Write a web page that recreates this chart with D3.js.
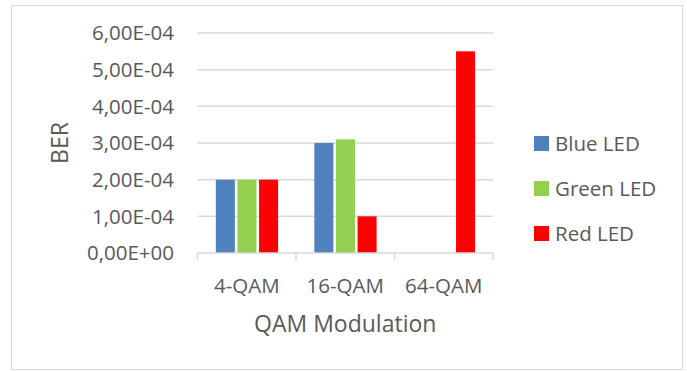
<!DOCTYPE html>
<html>
<head>
<meta charset="utf-8">
<script src="https://cdn.jsdelivr.net/npm/d3@7"></script>
<style>
  html, body { margin: 0; padding: 0; background: #fff; }
  svg { display: block; }
  text { font-family: "Open Sans", "Noto Sans", sans-serif; fill: #595959; }
</style>
</head>
<body>
<svg id="chart" width="687" height="372"></svg>
<script>
// BER per modulation scheme, one array per LED colour
const categories = ["4-QAM", "16-QAM", "64-QAM"];
const seriesNames = ["Blue LED", "Green LED", "Red LED"];
const blueLed = [2.0e-4, 3.0e-4, null];
const greenLed = [2.0e-4, 3.1e-4, null];
const redLed = [2.0e-4, 1.0e-4, 5.5e-4];
const seriesColors = ["#4F81BD", "#92D050", "#FF0000"];
const yTickValues = [0, 1e-4, 2e-4, 3e-4, 4e-4, 5e-4, 6e-4];
const yTickLabels = ["0,00E+00", "1,00E-04", "2,00E-04", "3,00E-04", "4,00E-04", "5,00E-04", "6,00E-04"];

const seriesValues = [blueLed, greenLed, redLed];

const svg = d3.select("#chart");

// outer chart frame
svg.append("rect")
  .attr("x", 11.5).attr("y", 5.5)
  .attr("width", 671).attr("height", 364)
  .attr("fill", "#fff")
  .attr("stroke", "#D9D9D9")
  .attr("stroke-width", 1);

const plot = { left: 197.5, right: 493, top: 33, bottom: 253 };
const tickFont = 20.5;
const titleFont = 23;

const x = d3.scaleBand()
  .domain(categories)
  .range([plot.left, plot.right])
  .paddingInner(0).paddingOuter(0);

const xSub = d3.scaleBand()
  .domain(seriesNames)
  .range([x.bandwidth() * 0.186, x.bandwidth() * 0.818])
  .paddingInner(0.12);

const y = d3.scaleLinear()
  .domain([0, 6e-4])
  .range([plot.bottom, plot.top]);

// horizontal gridlines
svg.append("g")
  .selectAll("line")
  .data(yTickValues.filter(v => v > 0))
  .join("line")
  .attr("x1", plot.left).attr("x2", plot.right)
  .attr("y1", d => y(d)).attr("y2", d => y(d))
  .attr("stroke", "#D9D9D9")
  .attr("stroke-width", 1.5);

// y axis labels
const yAxis = d3.axisLeft(y)
  .tickValues(yTickValues)
  .tickFormat((d, i) => yTickLabels[i])
  .tickSize(0)
  .tickPadding(0);
const gy = svg.append("g")
  .attr("transform", `translate(174,0)`)
  .call(yAxis);
gy.select(".domain").remove();
gy.selectAll("text")
  .attr("font-size", tickFont)
  .attr("font-family", null)
  .attr("fill", null)
  .attr("dy", "0.34em");

// bars
const rows = [];
categories.forEach((c, ci) => {
  seriesNames.forEach((s, si) => {
    const v = seriesValues[si][ci];
    if (v !== null) rows.push({ category: c, series: s, value: v, color: seriesColors[si] });
  });
});

svg.append("g")
  .selectAll("rect")
  .data(rows)
  .join("rect")
  .attr("x", d => x(d.category) + xSub(d.series))
  .attr("width", xSub.bandwidth())
  .attr("y", d => y(d.value))
  .attr("height", d => y(0) - y(d.value))
  .attr("fill", d => d.color);

// x axis baseline with boundary ticks
const xAxisG = svg.append("g");
xAxisG.append("line")
  .attr("x1", plot.left).attr("x2", plot.right)
  .attr("y1", plot.bottom).attr("y2", plot.bottom)
  .attr("stroke", "#D9D9D9").attr("stroke-width", 1.5);
const boundaries = categories.map(c => x(c)).concat([x.range()[1]]);
xAxisG.selectAll("line.tick")
  .data(boundaries)
  .join("line")
  .attr("class", "tick")
  .attr("x1", d => d).attr("x2", d => d)
  .attr("y1", plot.bottom).attr("y2", plot.bottom + 7)
  .attr("stroke", "#D9D9D9").attr("stroke-width", 1.5);

const xAxis = d3.axisBottom(x).tickSize(0).tickPadding(0);
const gx = svg.append("g")
  .attr("transform", `translate(0,${plot.bottom})`)
  .call(xAxis);
gx.select(".domain").remove();
gx.selectAll("text")
  .attr("font-size", tickFont)
  .attr("font-family", null)
  .attr("fill", null)
  .attr("y", 40)
  .attr("dy", null);

// axis titles
svg.append("text")
  .attr("x", (plot.left + plot.right) / 2)
  .attr("y", 332)
  .attr("text-anchor", "middle")
  .attr("font-size", titleFont)
  .text("QAM Modulation");

svg.append("text")
  .attr("transform", "translate(68,143) rotate(-90)")
  .attr("text-anchor", "middle")
  .attr("font-size", titleFont)
  .text("BER");

// legend
const legend = svg.append("g")
  .selectAll("g")
  .data(seriesNames)
  .join("g")
  .attr("transform", (d, i) => `translate(534,${143.5 + i * 45})`);
legend.append("rect")
  .attr("x", 0).attr("y", -7.5)
  .attr("width", 15).attr("height", 15)
  .attr("fill", (d, i) => seriesColors[i]);
legend.append("text")
  .attr("x", 21).attr("y", 0)
  .attr("dy", "0.35em")
  .attr("font-size", tickFont)
  .text(d => d);
</script>
</body>
</html>
